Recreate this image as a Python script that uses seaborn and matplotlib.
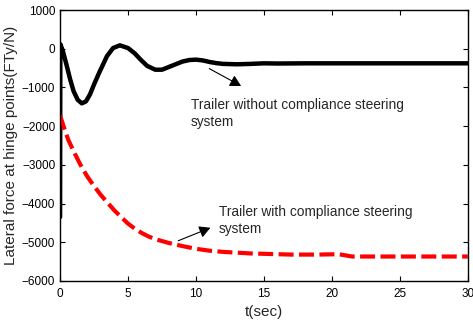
import matplotlib
matplotlib.use("Agg")
import matplotlib.pyplot as plt
import seaborn as sns
import pandas as pd

# Trailer without compliance steering system (black solid)
t_without = [0, 0.02, 0.2, 0.5, 0.75, 1.0, 1.3, 1.6, 1.9, 2.2, 2.5, 2.9, 3.45, 3.9, 4.4,
             5.0, 5.5, 5.9, 6.4, 7.0, 7.5, 8.0, 8.5, 9.0, 9.5, 10.0, 10.5, 11.0, 11.5,
             12.0, 13.0, 14.0, 15.0, 16.0, 18.0, 20.0, 25.0, 30.0]
f_without = [-4350, 120, -50, -450, -800, -1100, -1320, -1410, -1360, -1180, -920, -600,
             -190, 20, 90, 20, -120, -270, -440, -540, -540, -470, -400, -330, -290, -280,
             -300, -340, -370, -390, -400, -390, -375, -380, -375, -375, -375, -375]

# Trailer with compliance steering system (red dashed)
t_with = [0, 0.3, 0.6, 1.0, 1.5, 2.0, 2.5, 3.0, 3.5, 4.0, 4.5, 5.0, 5.5, 6.0, 6.5, 7.0, 7.5,
          8.0, 9.0, 10.0, 11.0, 12.0, 13.0, 14.0, 15.0, 17.0, 19.0, 20.5, 21.5, 25.0, 30.0]
f_with = [-1720, -2050, -2350, -2650, -3000, -3300, -3550, -3780, -3980, -4180, -4350, -4520,
          -4650, -4760, -4850, -4920, -4970, -5020, -5100, -5170, -5220, -5250, -5270, -5290,
          -5300, -5320, -5320, -5310, -5370, -5370, -5370]

x_ticks = [0, 5, 10, 15, 20, 25, 30]
y_ticks = [-6000, -5000, -4000, -3000, -2000, -1000, 0, 1000]

sns.set_style("ticks")
plt.rcParams['font.family'] = ['Liberation Sans', 'DejaVu Sans']

fig = plt.figure(figsize=(4.73, 3.27), dpi=100)
ax = fig.add_axes([0.127, 0.141, 0.862, 0.828])

df_wo = pd.DataFrame({"t": t_without, "F": f_without})
df_w = pd.DataFrame({"t": t_with, "F": f_with})

sns.lineplot(data=df_wo, x="t", y="F", ax=ax, color="black", lw=3.2, estimator=None, sort=False)
sns.lineplot(data=df_w, x="t", y="F", ax=ax, color="#ff0000", lw=3.0, estimator=None,
             sort=False, linestyle=(0, (3.6, 1.3)))

ax.set_xlim(0, 30)
ax.set_ylim(-6000, 1000)
ax.set_xticks(x_ticks)
ax.set_yticks(y_ticks)
ax.tick_params(direction="in", top=True, right=True, labelsize=8.5, length=3.5, width=0.8,
               colors="black")
ax.tick_params(axis="x", pad=5)
for s in ax.spines.values():
    s.set_linewidth(1.0)
    s.set_color("black")

ax.set_xlabel("t(sec)", fontsize=11, labelpad=4)
ax.set_ylabel("Lateral force at hinge points(FTy/N)", fontsize=11, labelpad=3)

arrow_style = dict(arrowstyle="-|>,head_length=0.55,head_width=0.3", color="black",
                   lw=0.8, mutation_scale=12)
ax.annotate("", xy=(13.5, -995), xytext=(10.8, -477), arrowprops=arrow_style)
ax.text(9.6, -1670, "Trailer without compliance steering\nsystem", fontsize=9.9,
        va="center", ha="left", linespacing=1.2)

ax.annotate("", xy=(11.25, -4600), xytext=(8.5, -4990), arrowprops=arrow_style)
ax.text(11.7, -4440, "Trailer with compliance steering\nsystem", fontsize=9.9,
        va="center", ha="left", linespacing=1.2)

fig.savefig("out.png", dpi=100)
